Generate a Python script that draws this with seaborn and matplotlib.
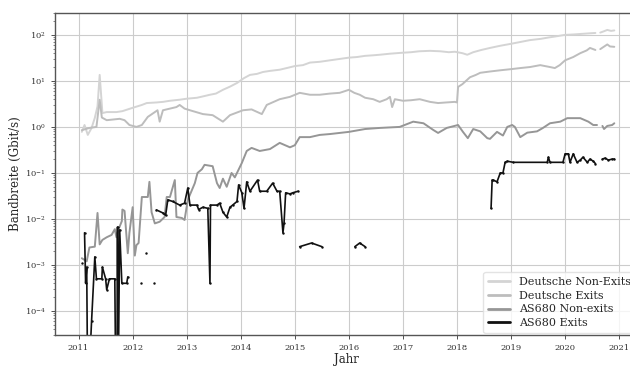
import numpy as np
import pandas as pd
import matplotlib
matplotlib.use("Agg")
import matplotlib.pyplot as plt
from matplotlib.lines import Line2D
import seaborn as sns

NAN = np.nan
LOW = 1e-6  # drops below the visible axis range

# ---------------- data (decimal year, Gbit/s) ----------------
de_nonexit_year = [2011.06, 2011.11, 2011.17, 2011.24, 2011.30, 2011.35, 2011.39, 2011.43, 2011.44, 2011.52,
                   2011.70, 2011.81, 2012.00, 2012.17, 2012.26, 2012.44, 2012.56, 2012.69, 2012.87, 2013.00,
                   2013.19, 2013.30, 2013.43, 2013.54, 2013.67, 2013.80, 2013.93, 2014.06, 2014.17, 2014.30,
                   2014.41, 2014.54, 2014.72, 2014.85, 2015.00, 2015.15, 2015.28, 2015.46, 2015.65, 2015.83,
                   2016.00, 2016.15, 2016.30, 2016.45, 2016.57, 2016.76, 2017.00, 2017.15, 2017.30, 2017.50,
                   2017.69, 2017.85, 2017.96, 2018.10, 2018.19, 2018.30, 2018.45, 2018.61, 2018.80, 2019.00,
                   2019.17, 2019.35, 2019.55, 2019.70, 2019.81, 2020.00, 2020.15, 2020.30, 2020.45, 2020.56,
                   2020.60, 2020.65, 2020.72, 2020.78, 2020.85, 2020.91]
de_nonexit_val = [0.78, 1.1, 0.67, 0.95, 1.57, 2.8, 13.5, 3.0, 2.0, 2.1,
                  2.1, 2.2, 2.6, 3.0, 3.3, 3.4, 3.5, 3.7, 3.9, 4.1,
                  4.3, 4.6, 5.0, 5.3, 6.4, 7.5, 9.0, 11.5, 13.5, 14.2,
                  15.6, 16.5, 17.5, 19, 21, 22, 25, 26, 28, 30,
                  32, 33, 35, 36, 37, 39, 41, 42, 44, 45,
                  44, 42, 43, 40, 37, 42, 47, 52, 58, 64,
                  70, 77, 82, 88, 92, 100, 102, 105, 108, 110,
                  NAN, 112, 120, 128, 122, 125]

de_exit_year = [2011.06, 2011.20, 2011.33, 2011.39, 2011.43, 2011.52, 2011.76, 2011.85, 2011.94, 2012.07,
                2012.17, 2012.28, 2012.46, 2012.50, 2012.56, 2012.69, 2012.81, 2012.87, 2012.96, 2013.06,
                2013.30, 2013.48, 2013.67, 2013.80, 2014.04, 2014.20, 2014.39, 2014.48, 2014.72, 2014.91,
                2015.09, 2015.28, 2015.46, 2015.65, 2015.83, 2016.00, 2016.10, 2016.20, 2016.30, 2016.45,
                2016.57, 2016.70, 2016.76, 2016.80, 2016.85, 2017.00, 2017.15, 2017.31, 2017.50, 2017.65,
                2017.80, 2017.96, 2018.00, 2018.02, 2018.10, 2018.24, 2018.35, 2018.43, 2018.61, 2018.80,
                2019.00, 2019.17, 2019.35, 2019.54, 2019.72, 2019.81, 2019.90, 2020.00, 2020.15, 2020.28,
                2020.40, 2020.46, 2020.56, 2020.60, 2020.65, 2020.78, 2020.83, 2020.91]
de_exit_val = [0.85, 0.95, 1.0, 3.9, 1.6, 1.4, 1.5, 1.4, 1.1, 1.0,
               1.1, 1.65, 2.3, 1.3, 2.3, 2.5, 2.7, 3.0, 2.5, 2.3,
               1.9, 1.8, 1.3, 1.8, 2.3, 2.4, 1.9, 3.0, 4.0, 4.5,
               5.5, 5.0, 5.0, 5.3, 5.5, 6.4, 5.5, 5.0, 4.3, 4.0,
               3.5, 4.0, 4.5, 2.7, 4.0, 3.7, 3.8, 4.0, 3.5, 3.3,
               3.4, 3.5, 3.4, 7.4, 8.5, 12, 13.5, 15, 16, 17,
               18, 19, 20, 22, 20, 19, 22, 28, 33, 40,
               46, 52, 47, NAN, 49, 62, 56, 55]

as_nonexit_year = [2011.06, 2011.15, 2011.20, 2011.30, 2011.35, 2011.39, 2011.44, 2011.52, 2011.61, 2011.67,
                   2011.70, 2011.74, 2011.80, 2011.81, 2011.85, 2011.91, 2011.94, 2012.00, 2012.04, 2012.07,
                   2012.11, 2012.17, 2012.28, 2012.31, 2012.35, 2012.41, 2012.50, 2012.59, 2012.63, 2012.69,
                   2012.78, 2012.81, 2012.91, 2012.96, 2013.02, 2013.15, 2013.20, 2013.28, 2013.33, 2013.48,
                   2013.56, 2013.61, 2013.67, 2013.74, 2013.83, 2013.89, 2014.02, 2014.11, 2014.20, 2014.35,
                   2014.54, 2014.72, 2014.91, 2015.00, 2015.09, 2015.28, 2015.46, 2015.65, 2016.00, 2016.30,
                   2016.57, 2016.94, 2017.19, 2017.38, 2017.56, 2017.65, 2017.81, 2018.02, 2018.11, 2018.20,
                   2018.30, 2018.43, 2018.56, 2018.61, 2018.74, 2018.85, 2018.93, 2019.02, 2019.07, 2019.17,
                   2019.30, 2019.48, 2019.59, 2019.72, 2019.91, 2020.04, 2020.28, 2020.43, 2020.52, 2020.59,
                   2020.62, 2020.69, 2020.72, 2020.78, 2020.87, 2020.91]
as_nonexit_val = [0.0014, 0.0012, 0.0024, 0.0025, 0.0135, 0.0028, 0.0035, 0.004, 0.0045, 0.006,
                  0.004, 0.006, 0.009, 0.016, 0.015, 0.0018, 0.005, 0.018, 0.0016, 0.0027,
                  0.003, 0.03, 0.03, 0.064, 0.014, 0.008, 0.0087, 0.011, 0.03, 0.03,
                  0.07, 0.011, 0.0105, 0.0095, 0.026, 0.06, 0.1, 0.12, 0.15, 0.14,
                  0.06, 0.047, 0.075, 0.05, 0.1, 0.08, 0.165, 0.3, 0.35, 0.3,
                  0.33, 0.45, 0.36, 0.4, 0.6, 0.6, 0.67, 0.7, 0.78, 0.9,
                  0.95, 1.0, 1.3, 1.2, 0.86, 0.74, 0.95, 1.1, 0.78, 0.57,
                  0.9, 0.8, 0.57, 0.55, 0.78, 0.65, 1.0, 1.1, 1.0, 0.6,
                  0.75, 0.8, 0.95, 1.2, 1.3, 1.55, 1.55, 1.3, 1.1, 1.1,
                  NAN, 1.05, 0.9, 1.05, 1.1, 1.2]

as_exit_year = [2011.06, 2011.09, 2011.11, 2011.13, 2011.15, 2011.17, 2011.24, 2011.30, 2011.33, 2011.43,
                2011.44, 2011.50, 2011.52, 2011.57, 2011.67, 2011.69, 2011.71, 2011.72, 2011.73, 2011.76,
                2011.80, 2011.89, 2011.91, 2011.93, 2012.15, 2012.20, 2012.24, 2012.30, 2012.39, 2012.42,
                2012.44, 2012.56, 2012.61, 2012.65, 2012.74, 2012.87, 2012.96, 2013.02, 2013.06, 2013.19,
                2013.22, 2013.30, 2013.39, 2013.43, 2013.44, 2013.56, 2013.61, 2013.67, 2013.74, 2013.80,
                2013.85, 2013.93, 2013.96, 2014.02, 2014.06, 2014.11, 2014.17, 2014.31, 2014.35, 2014.48,
                2014.59, 2014.67, 2014.72, 2014.78, 2014.80, 2014.83, 2014.91, 2014.96, 2015.06, 2015.08,
                2015.09, 2015.31, 2015.50, 2015.52, 2016.11, 2016.20, 2016.30, 2016.32, 2018.63, 2018.65,
                2018.67, 2018.74, 2018.80, 2018.85, 2018.89, 2018.93, 2019.04, 2019.67, 2019.69, 2019.72,
                2019.96, 2020.00, 2020.06, 2020.09, 2020.15, 2020.22, 2020.28, 2020.33, 2020.41, 2020.46,
                2020.52, 2020.56, 2020.60, 2020.69, 2020.74, 2020.80, 2020.87, 2020.91]
as_exit_val = [0.0011, NAN, 0.005, 0.0004, 0.0009, LOW, 0.00006, 0.0015, 0.0005, 0.0005,
               0.0009, 0.0005, 0.00029, 0.0005, 0.0005, LOW, LOW, 0.0067, LOW, 0.0058,
               0.0004, 0.0004, 0.00055, NAN, 0.0004, NAN, 0.0018, NAN, 0.0004, NAN,
               0.0157, 0.0135, 0.012, 0.026, 0.024, 0.02, 0.022, 0.047, 0.02, 0.02,
               0.016, 0.018, 0.017, 0.0004, 0.02, 0.02, 0.022, 0.014, 0.011, 0.018,
               0.02, 0.024, 0.055, 0.037, 0.017, 0.064, 0.04, 0.07, 0.04, 0.04,
               0.06, 0.04, 0.04, 0.005, 0.008, 0.037, 0.035, 0.037, 0.04, NAN,
               0.0025, 0.003, 0.0025, NAN, 0.0025, 0.003, 0.0025, NAN, 0.017, 0.07,
               0.07, 0.064, 0.1, 0.1, 0.17, 0.18, 0.17, 0.17, 0.22, 0.17,
               0.17, 0.26, 0.26, 0.17, 0.26, 0.17, 0.19, 0.22, 0.17, 0.2,
               0.18, 0.16, NAN, 0.2, 0.21, 0.19, 0.2, 0.2]

labels = ["Deutsche Non-Exits", "Deutsche Exits", "AS680 Non-exits", "AS680 Exits"]
colors = ["#d4d4d4", "#bdbdbd", "#969696", "#111111"]
x_ticks = list(range(2011, 2022))
x_label = "Jahr"
y_label = "Bandbreite (Gbit/s)"

series = [(de_nonexit_year, de_nonexit_val), (de_exit_year, de_exit_val),
          (as_nonexit_year, as_nonexit_val), (as_exit_year, as_exit_val)]

frames = []
for lab, (yr, val) in zip(labels, series):
    d = pd.DataFrame({"year": yr, "bw": val})
    d["seg"] = d["bw"].isna().cumsum()
    d = d.dropna()
    d["series"] = lab
    frames.append(d)
df = pd.concat(frames, ignore_index=True)

# ---------------- plotting ----------------
sns.set_style("ticks")
plt.rcParams["font.family"] = ["DejaVu Serif"]

fig = plt.figure(figsize=(6.3, 3.69), dpi=100)
ax = fig.add_axes([0.087, 0.092, 0.925, 0.873])
ax.set_yscale("log")

styles = {
    labels[0]: dict(lw=1.4),
    labels[1]: dict(lw=1.4),
    labels[2]: dict(lw=1.4),
    labels[3]: dict(lw=1.2, marker=".", markersize=3.5, markeredgewidth=0),
}
for lab, col in zip(labels, colors):
    sub = df[df["series"] == lab]
    sns.lineplot(data=sub, x="year", y="bw", units="seg", estimator=None,
                 color=col, ax=ax, legend=False, **styles[lab])

ax.set_xlim(2010.56, 2021.34)
ax.set_ylim(3.0e-5, 300)
ax.set_xticks(x_ticks)
ax.set_xticklabels([str(t) for t in x_ticks])
ax.grid(True, which="major", color="#cccccc", lw=0.8)
ax.set_axisbelow(True)
for s in ax.spines.values():
    s.set_color("#555555")
    s.set_linewidth(1.0)
ax.tick_params(axis="both", which="major", labelsize=6, length=3, width=0.6, colors="#333333")
ax.tick_params(axis="y", which="minor", length=1.5, width=0.5, colors="#555555")
ax.set_xlabel(x_label, fontsize=8.5, labelpad=1)
ax.set_ylabel(y_label, fontsize=8.5, labelpad=2)

handles = [Line2D([0], [0], color=c, lw=2.0) for c in colors]
ax.legend(handles, labels, loc="lower right", fontsize=8, frameon=True,
          borderaxespad=0.2, handlelength=2.0, labelspacing=0.35, framealpha=0.8,
          edgecolor="#dddddd", fancybox=True)

fig.savefig("out.png", dpi=100)
